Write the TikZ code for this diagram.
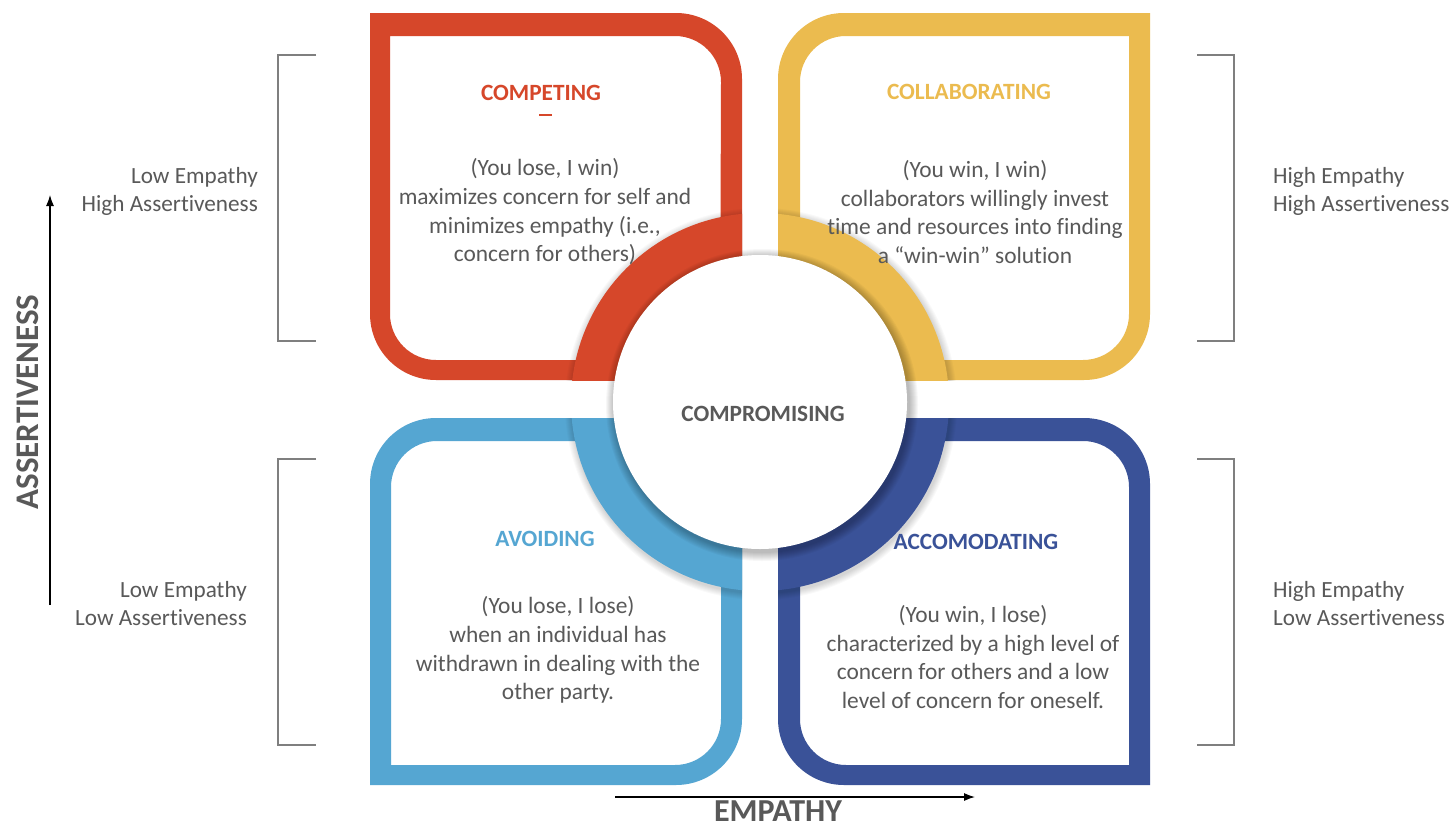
\documentclass[tikz,border=0pt]{standalone}
\usepackage{fontspec}
\setmainfont[RawFeature={-liga;-clig;-calt;-dlig}]{Carlito}
\usetikzlibrary{arrows.meta}
\definecolor{cRed}{HTML}{D6472A}
\definecolor{cYel}{HTML}{EBBB4F}
\definecolor{cLBlue}{HTML}{55A6D2}
\definecolor{cDBlue}{HTML}{3A5298}
\definecolor{txt}{HTML}{595959}
\definecolor{brk}{HTML}{7F7F7F}
\begin{document}
\begin{tikzpicture}[x=1pt,y=-1pt,
  frame/.style={fill=#1,even odd rule},
  title/.style={font=\bfseries\fontsize{23.3}{28}\selectfont,text=#1,inner sep=0pt},
  body/.style={font=\fontsize{23.4}{28.7}\selectfont,text=txt,align=center,inner sep=0pt},
  side/.style={font=\fontsize{23.2}{28}\selectfont,text=txt,inner sep=0pt},
  axis/.style={font=\bfseries\fontsize{33}{40}\selectfont,text=txt,inner sep=0pt},
  bracket/.style={draw=brk,line width=1.1pt},
  axisarrow/.style={draw=black,line width=1.2pt,-{Latex[length=11pt,width=8pt]}}]
\useasboundingbox (0,0) rectangle (1451,827);
\fill[white] (0,0) rectangle (1451,827);

% ---- frames ----
\fill[frame=cRed]
  (370,13) -- (676,13) arc[start angle=-90,end angle=0,radius=66] -- (742,380) -- (436,380) arc[start angle=90,end angle=180,radius=66] -- cycle
  (390,36) -- (675,36) arc[start angle=-90,end angle=0,radius=46] -- (720,360) -- (436,360) arc[start angle=90,end angle=180,radius=46] -- cycle;
\fill[frame=cYel]
  (778,79) arc[start angle=180,end angle=270,radius=66] -- (1150,13) -- (1150,314) arc[start angle=0,end angle=90,radius=66] -- (778,380) -- cycle
  (800,82) arc[start angle=180,end angle=270,radius=46] -- (1129,36) -- (1129,314) arc[start angle=0,end angle=90,radius=46] -- (800,360) -- cycle;
\fill[frame=cLBlue]
  (370,484) arc[start angle=180,end angle=270,radius=66] -- (742,418) -- (742,719) arc[start angle=0,end angle=90,radius=66] -- (370,785) -- cycle
  (391,487) arc[start angle=180,end angle=270,radius=46] -- (721,441) -- (721,719) arc[start angle=0,end angle=90,radius=46] -- (391,765) -- cycle;
\fill[frame=cDBlue]
  (778,418) -- (1084,418) arc[start angle=-90,end angle=0,radius=66] -- (1150,785) -- (844,785) arc[start angle=90,end angle=180,radius=66] -- cycle
  (800,441) -- (1083,441) arc[start angle=-90,end angle=0,radius=46] -- (1129,765) -- (846,765) arc[start angle=90,end angle=180,radius=46] -- cycle;

% ---- ring quarters with soft shadow ----
\foreach \xa/\ya/\xb/\yb/\col in {370/13/742/380/cRed, 778/13/1150/380/cYel, 370/418/742/785/cLBlue, 778/418/1150/785/cDBlue}{
  \begin{scope}
    \clip (\xa,\ya) rectangle (\xb,\yb);
    \foreach \k in {1,...,7}{\fill[black,opacity=0.025] (761,404) circle[radius=189+\k];}
    \fill[\col] (760,402) circle[radius=189];
  \end{scope}
}

% ---- centre circle with soft shadow ----
\foreach \k in {1,...,9}{\fill[black,opacity=0.03] (762,405) circle[radius=147+\k];}
\node[circle,fill=white,minimum size=294pt,inner sep=0pt] (mid) at (760,402) {};
\node[title=txt] (comp) at (763,414) {COMPROMISING};

% ---- texts ----
\node[title=cRed] (t1) at (541,93) {COMPETING};
\draw[cRed,line width=1.5pt] (539,115) -- (552,115);
\node[body] (b1) at (545,212) {(You lose, I win)\\maximizes concern for self and\\minimizes empathy (i.e.,\\concern for others)};

\node[title=cYel] (t2) at (969,92) {COLLABORATING};
\node[body] (b2) at (975,212) {(You win, I win)\\collaborators willingly invest\\time and resources into finding\\a “win-win” solution};

\node[title=cLBlue] (t3) at (545,539) {AVOIDING};
\node[body] (b3) at (558,650) {(You lose, I lose)\\when an individual has\\withdrawn in dealing with the\\other party.};

\node[title=cDBlue] (t4) at (976,542) {ACCOMODATING};
\node[body] (b4) at (973,657) {(You win, I lose)\\characterized by a high level of\\concern for others and a low\\level of concern for oneself.};

% ---- side labels ----
\node[side,anchor=east,align=right] (l1) at (258,191) {Low Empathy\\High Assertiveness};
\node[side,anchor=east,align=right] (l2) at (247,604) {Low Empathy\\Low Assertiveness};
\node[side,anchor=west,align=left] (r1) at (1273,191) {High Empathy\\High Assertiveness};
\node[side,anchor=west,align=left] (r2) at (1273,604) {High Empathy\\Low Assertiveness};

% ---- brackets ----
\draw[bracket] (316,55) -- (278,55) -- (278,341) -- (316,341);
\draw[bracket] (316,459) -- (278,459) -- (278,745) -- (316,745);
\draw[bracket] (1197,55) -- (1234,55) -- (1234,341) -- (1197,341);
\draw[bracket] (1197,459) -- (1234,459) -- (1234,745) -- (1197,745);

% ---- axes ----
\coordinate (ya) at (50,605);
\coordinate (yb) at (50,195);
\draw[axisarrow] (ya) -- (yb);
\node[axis,rotate=90] (ylab) at (28,402) {ASSERTIVENESS};
\coordinate (xa) at (615,797);
\coordinate (xb) at (975,797);
\draw[axisarrow] (xa) -- (xb);
\node[axis,font=\bfseries\fontsize{32}{38}\selectfont] (xlab) at (778,811) {EMPATHY};
\end{tikzpicture}
\end{document}
